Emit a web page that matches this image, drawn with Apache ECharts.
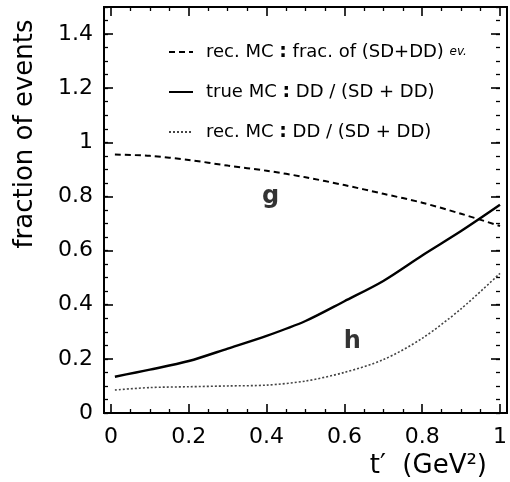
<!DOCTYPE html>
<html>
<head>
<meta charset="utf-8">
<script src="https://cdn.jsdelivr.net/npm/echarts@6/dist/echarts.min.js"></script>
<style>
  html, body { margin: 0; padding: 0; background: #fff; }
  #chart { width: 510px; height: 482px; }
</style>
</head>
<body>
<div id="chart"></div>
<script>
// t' values (GeV^2) at which the three fractions are sampled
const tValues  = [0.01, 0.10, 0.20, 0.30, 0.40, 0.50, 0.60, 0.70, 0.80, 0.90, 1.00];
// rec. MC : fraction of (SD+DD) events
const recFracSDDD = [0.955, 0.950, 0.935, 0.914, 0.895, 0.871, 0.842, 0.810, 0.777, 0.736, 0.691];
// true MC : DD / (SD + DD)
const trueDDRatio = [0.134, 0.160, 0.192, 0.238, 0.285, 0.340, 0.413, 0.488, 0.582, 0.672, 0.769];
// rec. MC : DD / (SD + DD)
const recDDRatio  = [0.085, 0.094, 0.097, 0.100, 0.103, 0.118, 0.150, 0.197, 0.276, 0.385, 0.516];

const seriesNames = [
  'rec. MC : frac. of (SD+DD) ev.',
  'true MC : DD / (SD + DD)',
  'rec. MC : DD / (SD + DD)'
];
const legendRich = [
  'rec. MC {b|:} frac. of (SD+DD) {s|ev.}',
  'true MC {b|:} DD / (SD + DD)',
  'rec. MC {b|:} DD / (SD + DD)'
];

// curve tags placed in data coordinates
const tagText = ['g', 'h'];
const tagT    = [0.41, 0.62];
const tagY    = [0.80, 0.262];

const FONT = 'DejaVu Sans';
const pairs = ys => tValues.map((t, i) => [t, ys[i]]);

const chart = echarts.init(document.getElementById('chart'), null, { renderer: 'canvas' });

const tickCommon = { show: true, inside: true, length: 9, lineStyle: { color: '#000', width: 1.6 } };
const minorCommon = { show: true, inside: true, length: 4, lineStyle: { color: '#000', width: 1.3 } };

function xAxisTicks(position, showLabels) {
  return {
    type: 'value', gridIndex: 1, position: position,
    min: 0, max: 1, interval: 0.2,
    axisLine: { show: false, onZero: false },
    axisTick: tickCommon,
    minorTick: Object.assign({ splitNumber: 4 }, minorCommon),
    splitLine: { show: false },
    axisLabel: showLabels ? {
      show: true, fontFamily: FONT, fontSize: 22, color: '#000', margin: 13
    } : { show: false }
  };
}

function yAxisTicks(position, interval, major, showLabels) {
  return {
    type: 'value', gridIndex: 1, position: position,
    offset: position === 'left' ? 7 : 0,
    min: 0, max: 1.5, interval: interval,
    axisLine: { show: false, onZero: false },
    axisTick: major ? tickCommon : minorCommon,
    splitLine: { show: false },
    axisLabel: showLabels ? {
      show: true, fontFamily: FONT, fontSize: 22, color: '#000', margin: 11,
      showMaxLabel: false,
      formatter: v => (Math.abs(v * 5 - Math.round(v * 5)) < 1e-6 ? String(+v.toFixed(1)) : '')
    } : { show: false }
  };
}

const option = {
  backgroundColor: '#fff',
  animation: false,
  grid: [
    // outer frame
    { left: 104, right: 3, top: 7, bottom: 69, show: true, borderColor: '#000', borderWidth: 2, backgroundColor: 'transparent' },
    // data area, t' = 0 sits a little inside the frame
    { left: 111, right: 3, top: 7, bottom: 69 }
  ],
  xAxis: [
    { type: 'value', gridIndex: 0, min: 0, max: 1, show: false },
    xAxisTicks('bottom', true),
    xAxisTicks('top', false)
  ],
  yAxis: [
    { type: 'value', gridIndex: 0, min: 0, max: 1, show: false },
    yAxisTicks('left', 0.2, true, true),
    yAxisTicks('left', 0.05, false, false),
    yAxisTicks('right', 0.2, true, false),
    yAxisTicks('right', 0.05, false, false)
  ],
  legend: {
    data: seriesNames,
    orient: 'vertical',
    left: 163, top: 36,
    itemWidth: 24, itemHeight: 12, itemGap: 18,
    itemStyle: { color: 'transparent', borderWidth: 0, opacity: 0 },
    formatter: name => legendRich[seriesNames.indexOf(name)],
    textStyle: {
      fontFamily: FONT, fontSize: 18, color: '#000', lineHeight: 22,
      padding: [0, 0, 0, 8],
      rich: {
        b: { fontFamily: FONT, fontSize: 19, fontWeight: 'bold', color: '#000' },
        s: { fontFamily: FONT, fontSize: 12, fontStyle: 'italic', color: '#000' }
      }
    }
  },
  series: [
    {
      name: seriesNames[0], type: 'line', xAxisIndex: 1, yAxisIndex: 1,
      data: pairs(recFracSDDD), smooth: 0.3, symbol: 'none',
      lineStyle: { color: '#000', width: 2, type: [6, 4] },
      itemStyle: { color: '#000' }
    },
    {
      name: seriesNames[1], type: 'line', xAxisIndex: 1, yAxisIndex: 1,
      data: pairs(trueDDRatio), smooth: 0.3, symbol: 'none',
      lineStyle: { color: '#000', width: 2.4, type: 'solid' },
      itemStyle: { color: '#000' }
    },
    {
      name: seriesNames[2], type: 'line', xAxisIndex: 1, yAxisIndex: 1,
      data: pairs(recDDRatio), smooth: 0.3, symbol: 'none',
      lineStyle: { color: '#444', width: 1.6, type: [2, 2] },
      itemStyle: { color: '#444' }
    },
    {
      name: 'tags', type: 'scatter', xAxisIndex: 1, yAxisIndex: 1,
      symbolSize: 0, silent: true,
      data: tagText.map((s, i) => [tagT[i], tagY[i], s]),
      label: {
        show: true, position: 'inside',
        formatter: p => p.value[2],
        fontFamily: FONT, fontSize: 24, fontWeight: 'bold', color: '#000'
      }
    }
  ],
  graphic: [
    {
      type: 'text', x: 25, y: 134, rotation: Math.PI / 2,
      style: {
        text: 'fraction of events', fontFamily: FONT, fontSize: 26, fill: '#000',
        align: 'center', verticalAlign: 'middle'
      }
    },
    {
      type: 'text', right: 23, bottom: 3,
      style: {
        text: 't\u2032  (GeV\u00B2)', fontFamily: FONT, fontSize: 26, fill: '#000'
      }
    }
  ]
};

chart.setOption(option);
</script>
</body>
</html>
